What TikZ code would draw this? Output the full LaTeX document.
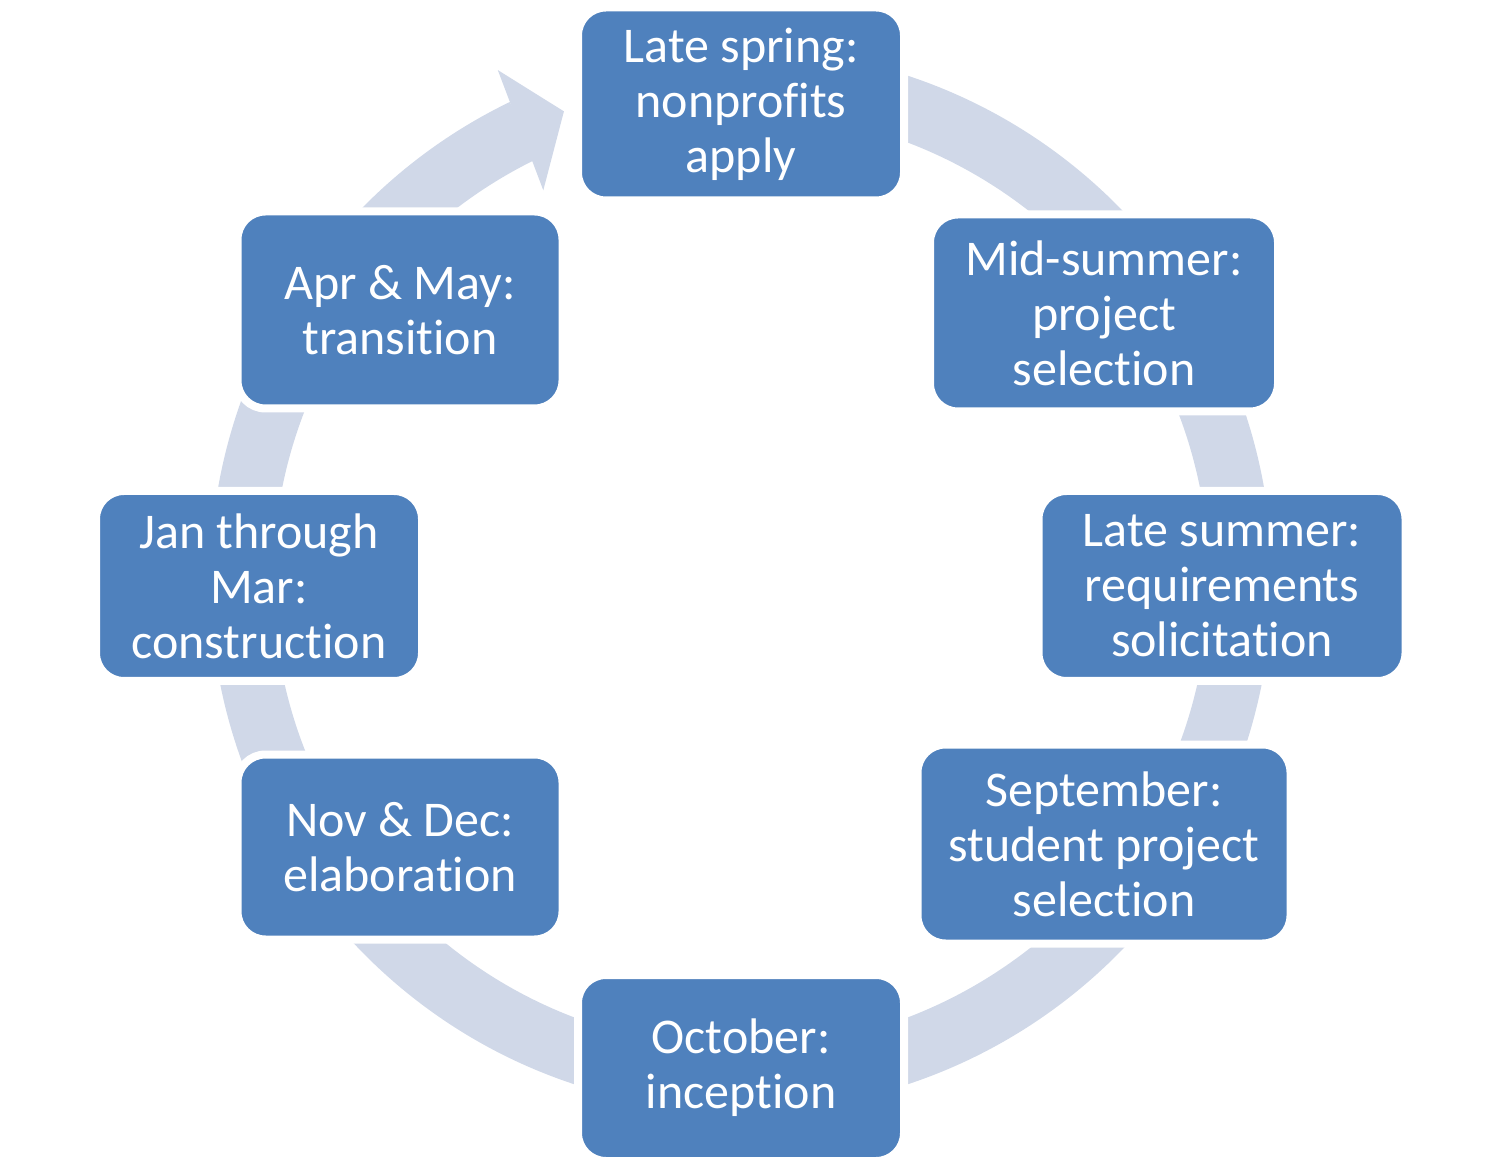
\documentclass[tikz,border=0pt]{standalone}
\usepackage{fontspec}
\setmainfont{Carlito}[Ligatures={NoCommon}]
\definecolor{boxblue}{HTML}{4F81BD}
\definecolor{ringblue}{HTML}{D0D8E8}
\begin{document}
\begin{tikzpicture}[x=0.5pt,y=0.5pt,
  stagebox/.style={rectangle, rounded corners=14pt, fill=boxblue, draw=white,
    line width=4pt, text=white, align=center, inner sep=0pt,
    font=\fontsize{25pt}{27.5pt}\selectfont},
  ringarc/.style={draw=ringblue, line width=31.5pt},
  ringhead/.style={fill=ringblue, draw=none}]
\useasboundingbox (0,0) rectangle (1502,1162);
\coordinate (C) at (741,582);
% ring
\draw[ringarc] ([shift={(85:249.75pt)}]C) arc[start angle=85, end angle=-244.2, radius=249.75pt];
\fill[ringhead] ([shift={(115.5:282.5pt)}]C) -- ([shift={(110.7:250.5pt)}]C) -- ([shift={(116.9:218.5pt)}]C) -- cycle;
% boxes
\node[stagebox, minimum width=163pt, minimum height=96.5pt] (s1) at (741,1058) {Late spring:\\nonprofits\\apply};
\node[stagebox, minimum width=174pt, minimum height=98.5pt] (s2) at (1104,849) {Mid-summer:\\project\\selection};
\node[stagebox, minimum width=183.5pt, minimum height=95pt] (s3) at (1222,576) {Late summer:\\requirements\\solicitation};
\node[stagebox, minimum width=186.5pt, minimum height=99.5pt] (s4) at (1104,318) {September:\\student project\\selection};
\node[stagebox, minimum width=163pt, minimum height=93pt] (s5) at (741,94) {October:\\inception};
\node[stagebox, minimum width=162.5pt, minimum height=92.5pt] (s6) at (400,315) {Nov \& Dec:\\elaboration};
\node[stagebox, minimum width=163pt, minimum height=95pt] (s7) at (259,576) {Jan through\\Mar:\\construction};
\node[stagebox, minimum width=162.5pt, minimum height=98.5pt] (s8) at (400,852) {Apr \& May:\\transition};
\end{tikzpicture}
\end{document}
